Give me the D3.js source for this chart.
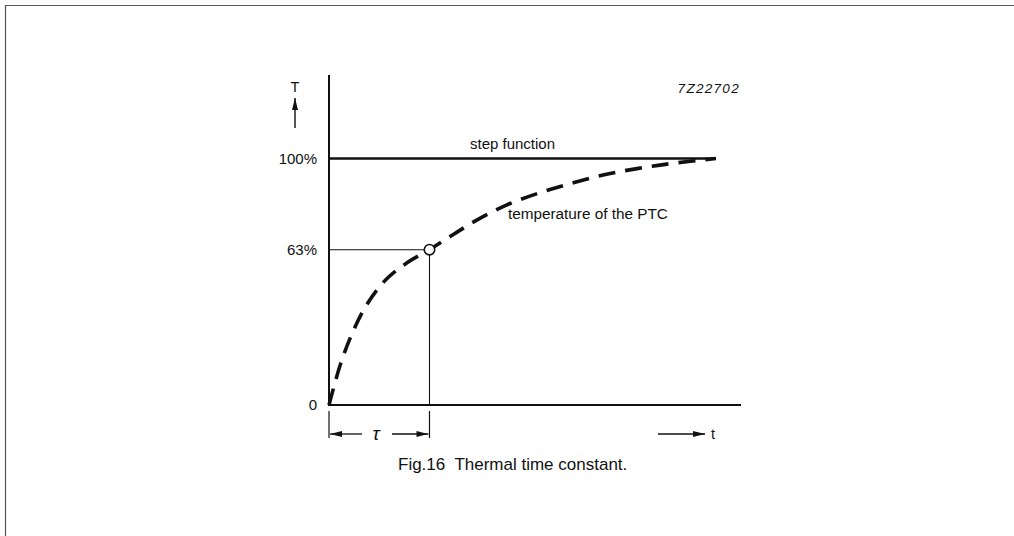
<!DOCTYPE html>
<html><head><meta charset="utf-8">
<script src="https://cdn.jsdelivr.net/npm/d3@7/dist/d3.min.js"></script>
<style>
html,body{margin:0;padding:0;background:#fff;}
svg{display:block;}
text{font-family:"Liberation Sans",Arial,sans-serif;fill:#111;}
</style></head>
<body>
<svg id="c" width="1014" height="536"></svg>
<script>
// ---- data ----
const timeDomain = [0, 4.1];            // time in units of tau
const tempDomain = [0, 100];            // temperature in % of step
const yTickValues = [0, 63, 100];
const yTickLabels = ["0", "63%", "100%"];
const stepT = [0, 3.85];                // step function (100%) extent
const stepValue = 100;
const tau = 1;
const tauValue = 63;
// temperature of the PTC (t/tau, %)
const curveT = [0, 0.11, 0.23, 0.38, 0.57, 0.78, 1.0, 1.23, 1.47, 1.76, 2.09, 2.42, 2.75, 3.08, 3.41, 3.85];
const curveV = [0, 16, 29, 41, 51, 57.8, 63, 69, 75, 81, 86, 90, 93.5, 96, 98, 100];
const labels = {
  yAxis: "T", xAxis: "t", code: "7Z22702",
  step: "step function", curve: "temperature of the PTC",
  tau: "\u03C4", caption: "Fig.16  Thermal time constant."
};

// ---- drawing ----
const svg = d3.select("#c");
const x = d3.scaleLinear().domain(timeDomain).range([329, 741]);
const y = d3.scaleLinear().domain(tempDomain).range([405, 158.5]);
const ink = "#111";

// page frame (top & left edges)
svg.append("path").attr("d", "M5.5,536 V5.5 H1014").attr("fill", "none")
  .attr("stroke", "#555").attr("stroke-width", 1.2);

// arrow markers
const defs = svg.append("defs");
defs.append("marker").attr("id", "ah").attr("viewBox", "0 0 12 6")
  .attr("refX", 12).attr("refY", 3).attr("markerWidth", 12).attr("markerHeight", 6)
  .attr("markerUnits", "userSpaceOnUse").attr("orient", "auto")
  .append("path").attr("d", "M0,0 L12,3 L0,6 Z").attr("fill", ink);

// axes
const yAxisTopY = 75;
svg.append("line").attr("x1", x(0)).attr("x2", x(0)).attr("y1", yAxisTopY).attr("y2", y(0) + 1)
  .attr("stroke", ink).attr("stroke-width", 2);
svg.append("line").attr("x1", x(0)).attr("x2", x(timeDomain[1])).attr("y1", y(0)).attr("y2", y(0))
  .attr("stroke", ink).attr("stroke-width", 2);

// y tick labels
svg.selectAll("text.yt").data(yTickValues).enter().append("text")
  .attr("class", "yt").attr("x", 317).attr("y", d => y(d)).attr("dy", "0.36em")
  .attr("text-anchor", "end").attr("font-size", 15)
  .text((d, i) => yTickLabels[i]);

// T label with up arrow
svg.append("text").attr("x", 295).attr("y", 87).attr("dy", "0.36em").attr("text-anchor", "middle")
  .attr("font-size", 14.5).text(labels.yAxis);
svg.append("line").attr("x1", 295).attr("x2", 295).attr("y1", 128).attr("y2", 98)
  .attr("stroke", ink).attr("stroke-width", 1.4).attr("marker-end", "url(#ah)");

// drawing code
svg.append("text").attr("x", 740).attr("y", 88).attr("dy", "0.36em").attr("text-anchor", "end")
  .attr("font-size", 13.5).attr("font-style", "italic").attr("letter-spacing", 1.3)
  .text(labels.code);

// step function
svg.append("line").attr("x1", x(stepT[0])).attr("x2", x(stepT[1]))
  .attr("y1", y(stepValue)).attr("y2", y(stepValue))
  .attr("stroke", ink).attr("stroke-width", 2.6);
svg.append("text").attr("x", 470).attr("y", 149).attr("font-size", 15).text(labels.step);

// tau guide lines
svg.append("line").attr("x1", x(0)).attr("x2", x(tau)).attr("y1", y(tauValue)).attr("y2", y(tauValue))
  .attr("stroke", ink).attr("stroke-width", 1.1);
svg.append("line").attr("x1", x(tau)).attr("x2", x(tau)).attr("y1", y(tauValue)).attr("y2", y(0))
  .attr("stroke", ink).attr("stroke-width", 1.1);

// curve
const pts = curveT.map((t, i) => [t, curveV[i]]);
const line = d3.line().x(d => x(d[0])).y(d => y(d[1])).curve(d3.curveCatmullRom);
svg.append("path").datum(pts).attr("d", line).attr("fill", "none")
  .attr("stroke", ink).attr("stroke-width", 3.6).attr("stroke-dasharray", "17,10");
svg.append("text").attr("x", 508).attr("y", 219).attr("font-size", 15.3).text(labels.curve);

// tau marker
svg.append("circle").attr("cx", x(tau)).attr("cy", y(tauValue)).attr("r", 5.2)
  .attr("fill", "#fff").attr("stroke", ink).attr("stroke-width", 1.6);

// tau bracket
const by = 434;
[0, tau].forEach(t => {
  svg.append("line").attr("x1", x(t)).attr("x2", x(t)).attr("y1", 411).attr("y2", 438)
    .attr("stroke", ink).attr("stroke-width", 1.2);
});
svg.append("line").attr("x1", 362).attr("x2", x(0) + 1).attr("y1", by).attr("y2", by)
  .attr("stroke", ink).attr("stroke-width", 1.3).attr("marker-end", "url(#ah)");
svg.append("line").attr("x1", 392).attr("x2", x(tau) - 1).attr("y1", by).attr("y2", by)
  .attr("stroke", ink).attr("stroke-width", 1.3).attr("marker-end", "url(#ah)");
svg.append("text").attr("x", 376).attr("y", by).attr("dy", "0.3em").attr("text-anchor", "middle")
  .attr("font-size", 19).attr("font-style", "italic").attr("font-family", "DejaVu Serif")
  .text(labels.tau);

// t arrow
svg.append("line").attr("x1", 658).attr("x2", 705).attr("y1", by).attr("y2", by)
  .attr("stroke", ink).attr("stroke-width", 1.3).attr("marker-end", "url(#ah)");
svg.append("text").attr("x", 711).attr("y", by).attr("dy", "0.36em").attr("font-size", 14.5)
  .text(labels.xAxis);

// caption
svg.append("text").attr("x", 398).attr("y", 470).attr("font-size", 17)
  .attr("xml:space", "preserve").style("white-space", "pre").text(labels.caption);
</script>
</body></html>
